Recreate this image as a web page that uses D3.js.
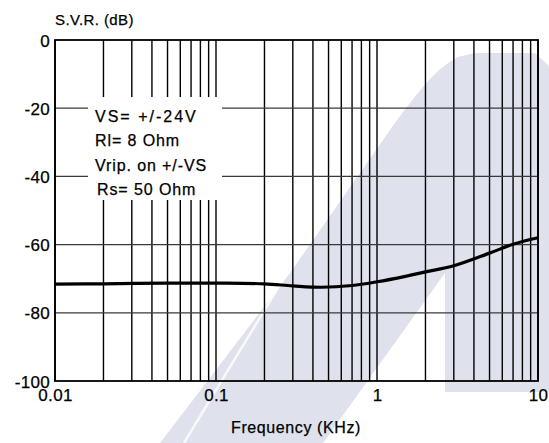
<!DOCTYPE html>
<html>
<head>
<meta charset="utf-8">
<script src="https://cdn.jsdelivr.net/npm/d3@7"></script>
<style>
	body { margin: 0; background: #fff; }
	svg text { font-family: "Liberation Sans", Arial, Helvetica, sans-serif; fill: #000; stroke: #000; stroke-width: 0.25px; }
</style>
</head>
<body>
<div id="chart"></div>
<script>
// curve values
var freqKHz = [0.01, 0.02, 0.05, 0.1, 0.2, 0.3, 0.45, 0.7, 1, 1.5, 2, 3, 5, 7, 10];
var svrDb = [-71.6, -71.5, -71.3, -71.3, -71.5, -72.1, -72.5, -72.0, -70.9, -69.3, -68.0, -66.2, -62.5, -59.9, -58.0];

var xTickValues = [0.01, 0.1, 1, 10];
var xTickLabels = ["0.01", "0.1", "1", "10"];
var yTickValues = [0, -20, -40, -60, -80, -100];
var yTickLabels = ["0", "-20", "-40", "-60", "-80", "-100"];

var noteLines = ["VS= +/-24V", "Rl= 8 Ohm", "Vrip. on +/-VS", "Rs= 50 Ohm"];

var W = 549, H = 443;
var plotLeft = 55, plotRight = 538, plotTop = 40, plotBottom = 381;

var svg = d3.select("#chart")
	.append("svg")
	.attr("width", W)
	.attr("height", H);

// background watermark
svg.append("path")
	.attr("d", "M160,443 L290,273 L383,140 Q405,108 423,87 Q440,66 458,57 L475,53 L535,53 L549,66 L549,392 L445,392 L445,273 L323,443 Z")
	.style("fill", "#dfe2ec");
svg.append("path")
	.attr("d", "M184,443 Q300,250 405,84")
	.style("fill", "none")
	.style("stroke", "#fff")
	.style("stroke-width", 2.5)
	.style("opacity", 0.8);

var x = d3.scaleLog().domain([0.01, 10]).range([plotLeft, plotRight]);
var y = d3.scaleLinear().domain([-100, 0]).range([plotBottom, plotTop]);

// grid
svg.append("g").selectAll("line")
	.data(x.ticks())
	.enter()
	.append("line")
		.attr("x1", function(d) { return x(d); })
		.attr("x2", function(d) { return x(d); })
		.attr("y1", plotTop)
		.attr("y2", plotBottom)
		.style("stroke", "#000")
		.style("stroke-width", 1.4);

svg.append("g").selectAll("line")
	.data(yTickValues.slice(1, 5))
	.enter()
	.append("line")
		.attr("x1", plotLeft)
		.attr("x2", plotRight)
		.attr("y1", function(d) { return y(d); })
		.attr("y2", function(d) { return y(d); })
		.style("stroke", "#3a3a3a")
		.style("stroke-width", 1.2);

// white box behind the notes
svg.append("rect")
	.attr("x", 88)
	.attr("y", 97)
	.attr("width", 134)
	.attr("height", 103)
	.style("fill", "#fff");

svg.append("g").selectAll("text")
	.data(noteLines)
	.enter()
	.append("text")
		.attr("x", function(d, i) { return i == 3 ? 97 : 95; })
		.attr("y", function(d, i) { return 122 + i * 24.3; })
		.style("font-size", "16px")
		.style("letter-spacing", function(d, i) { return i == 0 ? "2px" : "0.9px"; })
		.text(function(d) { return d; });

// frame
svg.append("rect")
	.attr("x", plotLeft)
	.attr("y", plotTop)
	.attr("width", plotRight - plotLeft)
	.attr("height", plotBottom - plotTop)
	.style("fill", "none")
	.style("stroke", "#000")
	.style("stroke-width", 1.8);

// curve
var line = d3.line()
	.x(function(d, i) { return x(freqKHz[i]); })
	.y(function(d) { return y(d); })
	.curve(d3.curveCatmullRom.alpha(0.5));

svg.append("path")
	.datum(svrDb)
	.attr("d", line)
	.style("fill", "none")
	.style("stroke", "#000")
	.style("stroke-width", 3.2);

// axes (labels only)
var yAxis = svg.append("g")
	.attr("transform", "translate(" + plotLeft + ",0)")
	.call(d3.axisLeft(y).tickValues(yTickValues)
		.tickFormat(function(d, i) { return yTickLabels[i]; })
		.tickSize(0).tickPadding(5));
yAxis.select(".domain").remove();
yAxis.selectAll("text")
	.style("font-size", "17px")
	.style("letter-spacing", "0.3px")
	.attr("dy", "0.36em");

var xAxis = svg.append("g")
	.attr("transform", "translate(0," + plotBottom + ")")
	.call(d3.axisBottom(x).tickValues(xTickValues)
		.tickFormat(function(d, i) { return xTickLabels[i]; })
		.tickSize(0).tickPadding(8));
xAxis.select(".domain").remove();
xAxis.selectAll("text")
	.style("font-size", "17px")
	.style("letter-spacing", "0.3px");

svg.append("text")
	.attr("x", 55)
	.attr("y", 25)
	.style("font-size", "15px")
	.style("letter-spacing", "0.4px")
	.text("S.V.R. (dB)");

svg.append("text")
	.attr("x", 296)
	.attr("y", 433)
	.attr("text-anchor", "middle")
	.style("font-size", "16px")
	.style("letter-spacing", "0.6px")
	.text("Frequency (KHz)");
</script>
</body>
</html>
